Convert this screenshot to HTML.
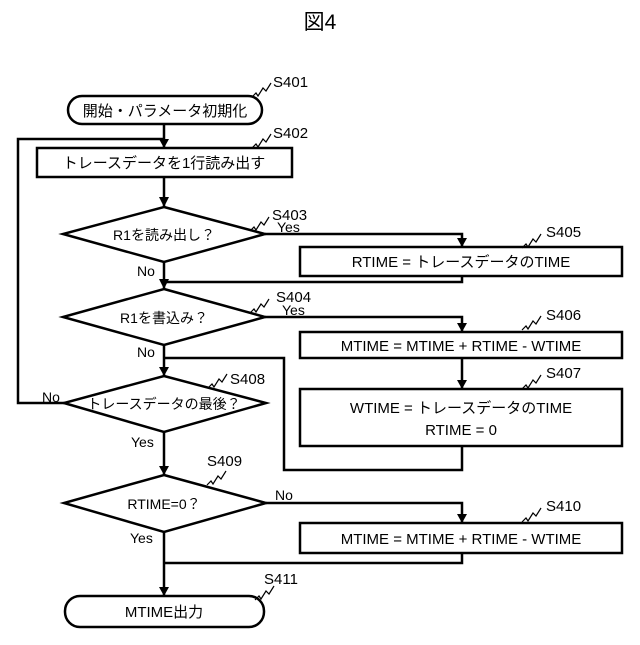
<!DOCTYPE html>
<html><head><meta charset="utf-8"><style>
body{margin:0;background:#fff}
svg text{font-family:"Liberation Sans","Noto Sans CJK JP",sans-serif;fill:#000}
</style></head><body>
<svg width="640" height="640" viewBox="0 0 640 640" xmlns="http://www.w3.org/2000/svg">
<defs><marker id="a" markerWidth="8" markerHeight="8" refX="4" refY="7" orient="auto" markerUnits="userSpaceOnUse"><path d="M0,0 L8,0 L4,8 z" fill="#000" transform="rotate(-90 4 4) rotate(90 4 4)"/></marker></defs>
<g stroke="#000" stroke-width="2.5" fill="none">
<!-- S401 -->
<rect x="68" y="96" width="194" height="28" rx="14" fill="#fff"/>
<line x1="164" y1="124" x2="164" y2="147"/>
<!-- loop -->
<polyline points="65,403 18,403 18,139 164,139"/>
<rect x="37" y="148" width="255" height="29"/>
<line x1="164" y1="177" x2="164" y2="206"/>
<polygon points="164,207 265,234 164,262 63,234"/>
<line x1="164" y1="262" x2="164" y2="288"/>
<polyline points="265,234 462,234 462,246"/>
<rect x="300" y="247" width="322" height="29"/>
<polyline points="462,276 462,282 164,282"/>
<polygon points="164,289 265,317 164,345 63,317"/>
<polyline points="265,317 462,317 462,331"/>
<rect x="300" y="332" width="322" height="26"/>
<line x1="462" y1="358" x2="462" y2="388"/>
<rect x="300" y="389" width="322" height="57"/>
<polyline points="462,446 462,470 284,470 284,358 164,358"/>
<line x1="164" y1="345" x2="164" y2="375"/>
<polygon points="164,376 266,403 164,432 64,403"/>
<line x1="164" y1="432" x2="164" y2="474"/>
<polygon points="164,475 266,503 164,532 64,503"/>
<polyline points="266,503 462,503 462,522"/>
<rect x="300" y="523" width="322" height="30"/>
<polyline points="462,553 462,563 164,563"/>
<line x1="164" y1="532" x2="164" y2="595"/>
<rect x="65" y="596" width="199" height="31" rx="15" fill="#fff"/>
</g>
<g fill="#000">
<path d="M159,139 L169,139 L164,148 z"/>
<path d="M159,197 L169,197 L164,207 z"/>
<path d="M159,279 L169,279 L164,289 z"/>
<path d="M457,238 L467,238 L462,247 z"/>
<path d="M457,323 L467,323 L462,332 z"/>
<path d="M457,380 L467,380 L462,389 z"/>
<path d="M159,367 L169,367 L164,376 z"/>
<path d="M159,466 L169,466 L164,475 z"/>
<path d="M457,514 L467,514 L462,523 z"/>
<path d="M159,587 L169,587 L164,596 z"/>
</g>
<g stroke="#000" stroke-width="1.2" fill="none">
<path d="M252,97 l4,-4 2,3 5,-8 3,3 5,-8"/>
<path d="M252,148 l4,-4 2,3 5,-8 3,3 5,-8"/>
<path d="M250,231 l4,-4 2,3 5,-8 3,3 5,-8"/>
<path d="M250,313 l4,-4 2,3 5,-8 3,3 5,-8"/>
<path d="M522,248 l4,-4 2,3 5,-8 3,3 5,-8"/>
<path d="M522,330 l4,-4 2,3 5,-8 3,3 5,-8"/>
<path d="M522,389 l4,-4 2,3 5,-8 3,3 5,-8"/>
<path d="M208,388 l4,-4 2,3 5,-8 3,3 5,-8"/>
<path d="M207,485 l4,-4 2,3 5,-8 3,3 5,-8"/>
<path d="M522,522 l4,-4 2,3 5,-8 3,3 5,-8"/>
<path d="M255,600 l4,-4 2,3 5,-8 3,3 5,-8"/>
</g>
<text x="320" y="29" font-size="21" text-anchor="middle">図4</text>
<g font-size="15">
<text x="165" y="116" text-anchor="middle">開始・パラメータ初期化</text>
<text x="164" y="168" text-anchor="middle">トレースデータを1行読み出す</text>
<text x="164" y="240" text-anchor="middle" font-size="14">R1を読み出し？</text>
<text x="164" y="323" text-anchor="middle" font-size="14">R1を書込み？</text>
<text x="164" y="409" text-anchor="middle" font-size="14">トレースデータの最後？</text>
<text x="164" y="509" text-anchor="middle" font-size="14">RTIME=0？</text>
<text x="164" y="617" text-anchor="middle">MTIME出力</text>
<text x="461" y="267" text-anchor="middle">RTIME = トレースデータのTIME</text>
<text x="461" y="351" text-anchor="middle">MTIME = MTIME + RTIME - WTIME</text>
<text x="461" y="413" text-anchor="middle">WTIME = トレースデータのTIME</text>
<text x="461" y="435" text-anchor="middle">RTIME = 0</text>
<text x="461" y="544" text-anchor="middle">MTIME = MTIME + RTIME - WTIME</text>
<text x="273" y="87">S401</text>
<text x="273" y="138">S402</text>
<text x="272" y="220">S403</text>
<text x="277" y="232" font-size="14">Yes</text>
<text x="137" y="276" font-size="14">No</text>
<text x="276" y="302">S404</text>
<text x="282" y="315" font-size="14">Yes</text>
<text x="137" y="357" font-size="14">No</text>
<text x="546" y="237">S405</text>
<text x="546" y="320">S406</text>
<text x="546" y="378">S407</text>
<text x="230" y="384">S408</text>
<text x="42" y="402" font-size="14">No</text>
<text x="131" y="447" font-size="14">Yes</text>
<text x="207" y="466">S409</text>
<text x="275" y="500" font-size="14">No</text>
<text x="546" y="511">S410</text>
<text x="130" y="543" font-size="14">Yes</text>
<text x="264" y="584">S411</text>
</g>
</svg>
</body></html>
